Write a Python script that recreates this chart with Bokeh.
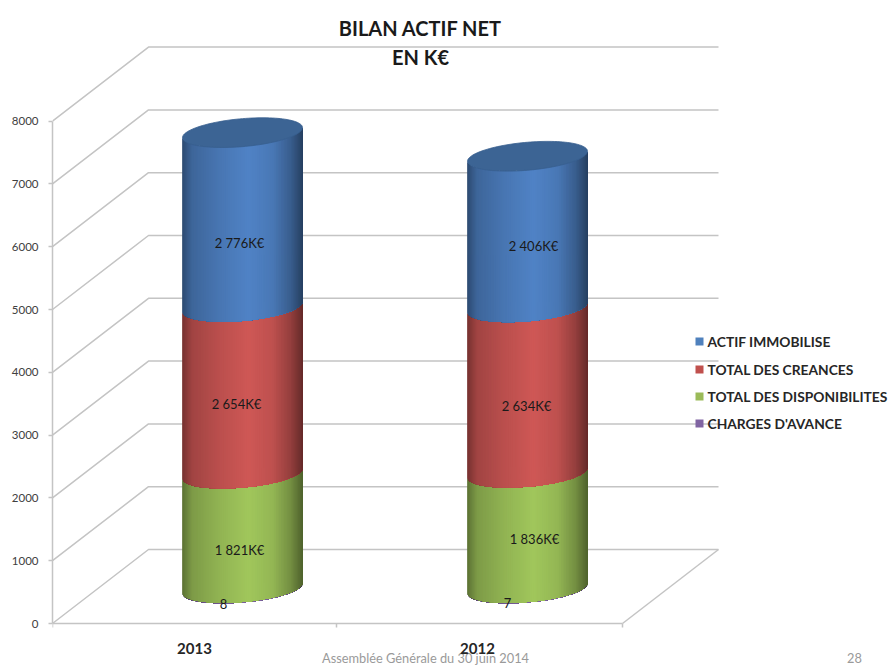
import numpy as np
from bokeh.core.properties import value
from bokeh.embed import file_html
from bokeh.models import FixedTicker, LinearAxis, Range1d
from bokeh.plotting import figure
from bokeh.resources import INLINE

# Balance sheet figures, in thousands of euros
years = ["2013", "2012"]
charges_avance = [8, 7]
disponibilites = [1821, 1836]
creances = [2654, 2634]
immobilise = [2776, 2406]
y_ticks = [0, 1000, 2000, 3000, 4000, 5000, 6000, 7000, 8000]
legend_labels = ["ACTIF IMMOBILISE", "TOTAL DES CREANCES",
                 "TOTAL DES DISPONIBILITES", "CHARGES D'AVANCE"]

FONT = "Lato"
GRID = "#c4c4c4"
PX_PER_UNIT = 0.0628           # vertical scale of the value axis
UNIT = 1 / PX_PER_UNIT         # one screen pixel, in value units
AXIS_Y_PX = 623                # screen row of the value 0
LEFT_PX = 52

# Oblique projection of the 3D box
DEPTH_X = 96
DEPTH_V = 74 * UNIT
FRONT_RIGHT = 622
BACK_RIGHT = 718

# Cylinders
CENTERS = [242, 527]
RADIUS_X = 60
RADIUS_Y = 14
TILT = 10 / 120
BASE_V = 35 * UNIT


def py(px_row):
    """Value-axis coordinate of a screen row."""
    return (AXIS_Y_PX - px_row) * UNIT


# The frame runs to the bottom of the page so the footer can sit below the axis
p = figure(width=888, height=665, output_backend="svg", toolbar_location=None,
           x_range=Range1d(LEFT_PX, 888), y_range=Range1d(py(665), py(0)),
           min_border_left=LEFT_PX, min_border_bottom=0,
           min_border_top=0, min_border_right=0,
           x_axis_type=None, y_axis_type=None)
p.outline_line_color = None
p.grid.visible = False
p.background_fill_color = "white"

# Value axis
y_axis = LinearAxis(ticker=FixedTicker(ticks=y_ticks), bounds=(0, 8000))
y_axis.axis_line_color = GRID
y_axis.axis_line_width = 1.5
y_axis.major_tick_line_color = GRID
y_axis.major_tick_line_width = 1.5
y_axis.major_tick_in = 0
y_axis.major_tick_out = 4
y_axis.minor_tick_line_color = None
y_axis.major_label_standoff = 10
y_axis.major_label_text_font = FONT
y_axis.major_label_text_font_size = "11.5px"
y_axis.major_label_text_color = "#404040"
p.add_layout(y_axis, "left")

# Category axis: labels sit between the tick marks
x_axis = LinearAxis(
    ticker=FixedTicker(ticks=[194, 477], minor_ticks=[LEFT_PX, 336, FRONT_RIGHT]),
    bounds=(LEFT_PX, FRONT_RIGHT), fixed_location=0)
x_axis.major_label_overrides = {194: years[0], 477: years[1]}
x_axis.axis_line_color = GRID
x_axis.axis_line_width = 1.5
x_axis.major_tick_line_color = None
x_axis.major_tick_out = 0
x_axis.major_tick_in = 0
x_axis.minor_tick_line_color = GRID
x_axis.minor_tick_line_width = 1.5
x_axis.minor_tick_out = 4
x_axis.minor_tick_in = 0
x_axis.major_label_standoff = 15
x_axis.major_label_text_font = FONT
x_axis.major_label_text_font_style = "bold"
x_axis.major_label_text_font_size = "15px"
x_axis.major_label_text_color = "#262626"
p.add_layout(x_axis, "below")

# Gridlines of the side and back walls, and the floor edge
grid_xs, grid_ys = [], []
for v in y_ticks:
    grid_xs.append([LEFT_PX, LEFT_PX + DEPTH_X, BACK_RIGHT])
    grid_ys.append([v, v + DEPTH_V, v + DEPTH_V])
grid_xs.append([FRONT_RIGHT, BACK_RIGHT])
grid_ys.append([0, DEPTH_V])
p.multi_line(grid_xs, grid_ys, line_color=GRID, line_width=1.5)


def shade(rgb, t):
    """Horizontal cylinder shading: dark edges, bright just right of centre."""
    f = np.interp(t, [0, .08, .3, .55, .75, .9, 1], [.58, .78, .9, 1, .92, .72, .5])
    return "#%02x%02x%02x" % tuple(int(c * f) for c in rgb)


def front_arc(cx, theta, level):
    """Points on the front arc of the tilted ellipse whose centre is at `level`."""
    x = cx - RADIUS_X * np.cos(theta)
    dy_px = TILT * (x - cx) - RADIUS_Y * np.sin(theta)
    return x, level + dy_px * UNIT


THETA = np.linspace(0, np.pi, 91)
SEGMENTS = [
    (charges_avance, (128, 100, 162)),
    (disponibilites, (161, 199, 92)),
    (creances, (207, 88, 86)),
    (immobilise, (80, 131, 198)),
]

for i, cx in enumerate(CENTERS):
    level = BASE_V
    for values, rgb in SEGMENTS:
        top = level + values[i]
        x0, y0 = front_arc(cx, THETA, level)
        x1, y1 = front_arc(cx, THETA, top)
        xs, ys, colors = [], [], []
        # Each band runs to the right edge and the next one paints over it,
        # which keeps the shading free of seams between neighbouring bands
        for k in range(len(THETA) - 1):
            xs.append(np.concatenate([x1[k:], x0[k:][::-1]]))
            ys.append(np.concatenate([y1[k:], y0[k:][::-1]]))
            colors.append(shade(rgb, ((x0[k] + x0[k + 1]) / 2 - (cx - RADIUS_X)) / (2 * RADIUS_X)))
        p.patches(xs, ys, fill_color=colors, line_color=None)
        level = top
    # Cap of the cylinder
    t = np.linspace(0, 2 * np.pi, 121)
    cap_x, cap_y = front_arc(cx, t, level)
    p.patch(cap_x, cap_y, fill_color="#3c6494", line_color="#38608f", line_width=0.8)


def money(v):
    return f"{v // 1000} {v % 1000:03d}K€" if v >= 1000 else str(v)


# Data labels inside the stacks
value_labels = [
    (239, 242, immobilise[0]), (236, 403, creances[0]), (239, 549, disponibilites[0]),
    (223, 603, charges_avance[0]),
    (533, 245, immobilise[1]), (526, 405, creances[1]), (534, 538, disponibilites[1]),
    (507, 602, charges_avance[1]),
]
p.text([a for a, _, _ in value_labels], [py(b) for _, b, _ in value_labels],
       text=[money(c) for _, _, c in value_labels],
       text_font=value(FONT), text_font_size="13px", text_color="#1a1a1a",
       text_align="center", text_baseline="middle")

# Title
p.text([420, 420], [py(27), py(56)], text=["BILAN ACTIF NET", "EN K€"],
       text_font=value(FONT), text_font_style="bold", text_font_size="20px",
       text_color="#1a1a1a", text_align="center", text_baseline="middle")

# Legend, top to bottom in reverse stacking order
legend_rows = [341, 369, 396, 423]
legend_colors = ["#4f81bd", "#c0504d", "#9bbb59", "#8064a2"]
p.scatter([699] * 4, [py(r) for r in legend_rows], marker="square", size=8,
          fill_color=legend_colors, line_color=None)
p.text([707] * 4, [py(r) for r in legend_rows], text=legend_labels,
       text_font=value(FONT), text_font_style="bold", text_font_size="13.8px",
       text_color="#262626", text_align="left", text_baseline="middle")

# Slide footer
p.text([425, 854], [py(657), py(657)], text=["Assemblée Générale du 30 juin 2014", "28"],
       text_font=value(FONT), text_font_size="12.8px", text_color="#9a9a9a",
       text_align="center", text_baseline="middle")

open("out.html", "w").write(file_html(p, INLINE))
